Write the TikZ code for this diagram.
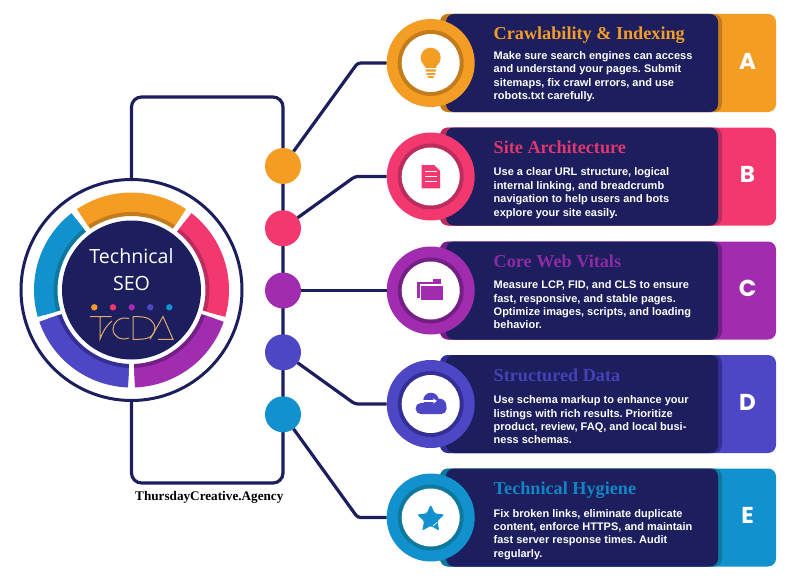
\documentclass[tikz,border=0pt]{standalone}
\usepackage{fontspec}
\setmainfont{Liberation Sans}
\newfontfamily\titlefont{Liberation Serif}
\newfontfamily\letterfont{Poppins}
\newfontfamily\hubfont{Open Sans}
\frenchspacing
\usetikzlibrary{
  shapes,
  arrows.meta,
  positioning,
  calc,
}
\definecolor{navy}{HTML}{1C1E5E}
\definecolor{seoA}{HTML}{F49D25}
\definecolor{seoAd}{HTML}{C47B1C}
\definecolor{seoB}{HTML}{F3386F}
\definecolor{seoBd}{HTML}{BC2C5E}
\definecolor{seoC}{HTML}{A12CAF}
\definecolor{seoCd}{HTML}{741F86}
\definecolor{seoD}{HTML}{4E47C5}
\definecolor{seoDd}{HTML}{332F96}
\definecolor{seoE}{HTML}{1192CF}
\definecolor{seoEd}{HTML}{0F789F}
\definecolor{logotan}{HTML}{E0AA6C}
\tikzset{
  link/.style={
    draw=navy,
    line width=3.2pt
  },
  hub dot/.style={
    circle,
    minimum size=36pt,
    inner sep=0pt,
    outer sep=0pt
  },
  mini dot/.style={
    circle,
    minimum size=6.4pt,
    inner sep=0pt
  },
  badge/.style={
    circle,
    minimum size=88pt,
    inner sep=0pt,
    outer sep=0pt
  },
  badge ring/.style={
    circle,
    minimum size=66pt,
    inner sep=0pt
  },
  badge core/.style={
    circle,
    fill=white,
    minimum size=58pt,
    inner sep=0pt
  },
  bar/.style={
    rounded corners=8pt,
    minimum height=98pt,
    inner sep=0pt
  },
  card title/.style={
    font=\titlefont\bfseries\fontsize{18.2}{20}\selectfont,
    anchor=base west,
    inner sep=0pt
  },
  card body/.style={
    font=\bfseries\fontsize{11}{13.4}\selectfont,
    text=white,
    align=left,
    anchor=north west,
    inner sep=0pt
  },
  card letter/.style={
    font=\letterfont\bfseries\fontsize{23}{24}\selectfont,
    text=white,
    inner sep=0pt
  },
  logo line/.style={
    draw=logotan,
    line width=1pt
  }
}
% letter, y, colour, title, body, body offset
\newcommand{\seocard}[6]{
  \node[bar,fill=seo#1,minimum width=336pt] (tab#1) at (608,#2) {};
  \node[bar,fill=seo#1d,minimum width=282pt] (band#1) at (581,#2) {};
  \node[bar,fill=navy,minimum width=272pt] (card#1) at (582,#2) {};
  \node[badge,fill=seo#1] (badge#1) at (430.7,#2) {};
  \node[badge ring,fill=seo#1d] (ring#1) at (badge#1) {};
  \node[badge core] (core#1) at (badge#1) {};
  \node[card letter] (letter#1) at (747.5,#2-1.7) {#1};
  \node[card title,text=#3] (title#1) at (493.5,#2-23) {#4};
  \node[card body] (body#1) at (493.5,#2#6) {#5};
}
% start angle, end angle, letter
\newcommand{\ringseg}[3]{
  \fill[seo#3d] ($(hub)+(#1:90)$) arc[start angle=#1,end angle=#2,radius=90]
    -- ($(hub)+(#2:74)$) arc[start angle=#2,end angle=#1,radius=74] -- cycle;
  \fill[seo#3] ($(hub)+(#1:97.5)$) arc[start angle=#1,end angle=#2,radius=97.5]
    -- ($(hub)+(#2:78)$) arc[start angle=#2,end angle=#1,radius=78] -- cycle;
}
\begin{document}
\begin{tikzpicture}[x=1pt,y=-1pt]
\useasboundingbox (0,0) rectangle (799,583);
% hub and the loop behind it
\node[draw=navy,line width=3pt,circle,minimum size=221pt,inner sep=0pt] (hub) at (131.5,290) {};
\coordinate (looptop) at (283,97);
\coordinate (loopbot) at (283,483);
\draw[link,rounded corners=10pt] (hub.north) |- (looptop) -- (loopbot) -| (hub.south);
\ringseg{-124}{-56}{A}
\ringseg{-52}{16}{B}
\ringseg{19}{88}{C}
\ringseg{92}{161}{D}
\ringseg{164}{232}{E}
\node[fill=navy,circle,minimum size=139pt,inner sep=0pt] (disc) at (hub) {};
\node[font=\hubfont\fontsize{19.6}{26.5}\selectfont,text=white,align=center,inner sep=0pt] (hubtext) at (131.5,269.5) {Technical\\SEO};
% logo
\node[mini dot,fill=seoA] (miniA) at (94.3,307.3) {};
\node[mini dot,fill=seoB] (miniB) at (113,307.3) {};
\node[mini dot,fill=seoC] (miniC) at (131.7,307.3) {};
\node[mini dot,fill=seoD] (miniD) at (150.3,307.3) {};
\node[mini dot,fill=seoE] (miniE) at (169.3,307.3) {};
\draw[logo line] (90,316.7) -- (111.7,316.7)
  (100,316.7) -- (100,339.3) .. controls (103,331) and (107,325) .. (112,321);
\draw[logo line] (129,318.5) .. controls (119,316) and (113,323) .. (113,329)
  .. controls (113,336) and (120,341) .. (129,338);
\draw[logo line] (133,316.7) -- (139,316.7) .. controls (150,316.7) and (155,323) .. (155,328)
  .. controls (155,335) and (150,339.3) .. (139,339.3) -- (133,339.3) -- cycle;
\draw[logo line] (150,339.3) -- (163,316.5) -- (173,339.3) -- (158,339.3);
% cards
\seocard{A}{63}{seoA}{Crawlability \& Indexing}{Make sure search engines can access\\and understand your pages. Submit\\sitemaps, fix crawl errors, and use\\robots.txt carefully.}{-11.7}
\seocard{B}{176.5}{seoB!92!navy}{Site Architecture}{Use a clear URL structure, logical\\internal linking, and breadcrumb\\navigation to help users and bots\\explore your site easily.}{-8.8}
\seocard{C}{290.5}{seoC!85!navy}{Core Web Vitals}{Measure LCP, FID, and CLS to ensure\\fast, responsive, and stable pages.\\Optimize images, scripts, and loading\\behavior.}{-9.9}
\seocard{D}{404}{seoD!85!navy}{Structured Data}{Use schema markup to enhance your\\listings with rich results. Prioritize\\product, review, FAQ, and local busi-\\ness schemas.}{-8.4}
\seocard{E}{517.5}{seoE!90!navy}{Technical Hygiene}{Fix broken links, eliminate duplicate\\content, enforce HTTPS, and maintain\\fast server response times. Audit\\regularly.}{-8.5}
% dots on the loop
\node[hub dot,fill=seoA] (dotA) at (283,166) {};
\node[hub dot,fill=seoB] (dotB) at (283,228.3) {};
\node[hub dot,fill=seoC] (dotC) at (283,290.5) {};
\node[hub dot,fill=seoD] (dotD) at (283,352.3) {};
\node[hub dot,fill=seoE] (dotE) at (283,414.3) {};
\coordinate (bendA) at (357.6,63);
\coordinate (bendB) at (355,176.5);
\coordinate (bendD) at (355,404);
\coordinate (bendE) at (357.6,517.5);
\draw[link,rounded corners=3pt] (dotA) -- (bendA) -- (badgeA);
\draw[link,rounded corners=3pt] (dotB) -- (bendB) -- (badgeB);
\draw[link] (dotC) -- (badgeC);
\draw[link,rounded corners=3pt] (dotD) -- (bendD) -- (badgeD);
\draw[link,rounded corners=3pt] (dotE) -- (bendE) -- (badgeE);
% icons
\fill[seoA] (430.7,57.7) circle[radius=10];
\fill[seoA] (423.5,64) -- (425.8,68) -- (435.6,68) -- (437.9,64) -- cycle;
\fill[seoA,rounded corners=0.8pt] (425.5,69.3) rectangle (436,71.7);
\fill[seoA,rounded corners=0.8pt] (426,73.2) rectangle (435.5,75);
\fill[seoA,rounded corners=0.8pt] (427.5,76) rectangle (434,77.8);
\fill[seoB] (421.7,165) -- (434,165) -- (440,171) -- (440,188.3) -- (421.7,188.3) -- cycle;
\draw[white,line width=1.5pt] (425,171.7) -- (437,171.7) (425,176.7) -- (437,176.7) (425,181.7) -- (437,181.7);
\fill[seoC] (417.3,281.7) rectangle (434,298);
\fill[seoC] (433,279.3) rectangle (440.7,286);
\fill[seoC,draw=white,line width=1.2pt] (420.5,285) rectangle (444,300.6);
\fill[seoD,rounded corners=5pt] (415.7,403) rectangle (446.5,414);
\fill[seoD] (431,400.5) circle[radius=7.8];
\fill[seoD] (439,406) circle[radius=7.5];
\draw[white,line width=1.3pt,-{Stealth[length=4pt,width=5pt]}] (423,401) -- (437,401);
\node[star,star points=5,star point ratio=2.1,fill=seoE,rounded corners=1.5pt,minimum size=29pt,inner sep=0pt] (starE) at (430.7,519) {};
\draw[white,line width=0.7pt] (433,526) -- (437,522.5);
% footer
\node[font=\titlefont\bfseries\fontsize{13.2}{15}\selectfont,text=black,anchor=west,inner sep=0pt] (agency) at (135,497) {ThursdayCreative.Agency};
\end{tikzpicture}
\end{document}
